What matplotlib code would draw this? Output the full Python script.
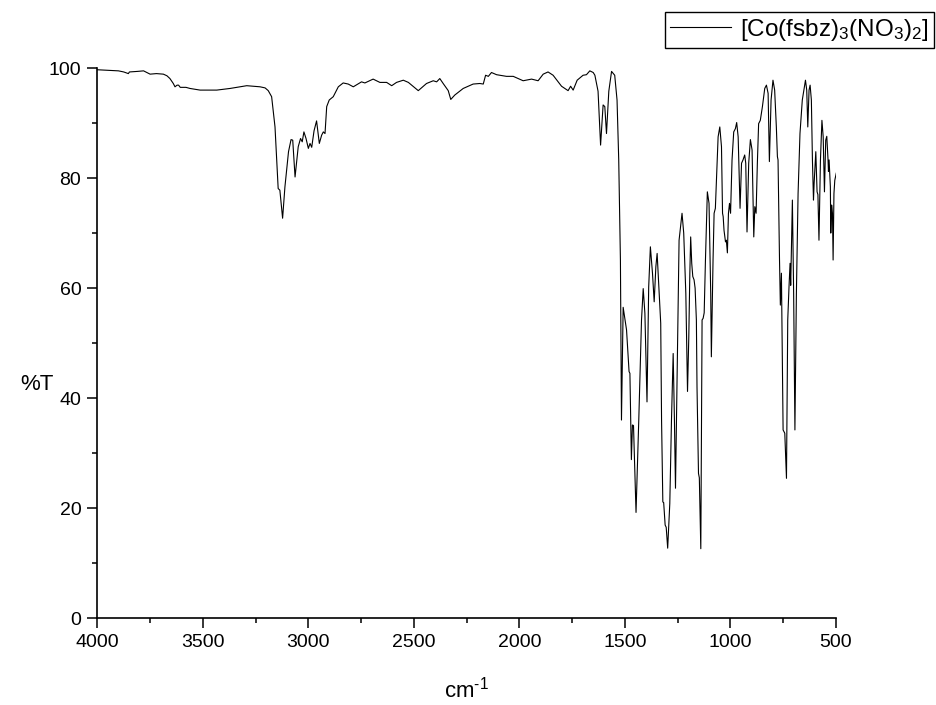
import matplotlib
matplotlib.use("Agg")
import matplotlib.pyplot as plt
from matplotlib.ticker import MultipleLocator

plt.rcParams['font.family'] = ['Liberation Sans', 'DejaVu Sans']
plt.rcParams['mathtext.fontset'] = 'custom'
plt.rcParams['mathtext.rm'] = 'Liberation Sans'
plt.rcParams['mathtext.it'] = 'Liberation Sans'

# IR spectrum: wavenumber (cm^-1) and transmittance (%T)
wavenumber = [
    4000, 3950, 3900, 3875, 3853, 3848, 3810, 3781, 3750, 3720, 3687, 3670,
    3656, 3640, 3632, 3622, 3615, 3607, 3580, 3561, 3513, 3434, 3371, 3292,
    3229, 3205, 3190, 3174, 3158, 3143, 3135, 3122, 3111, 3094, 3082, 3074,
    3063, 3048, 3037, 3029, 3021, 3011, 3000, 2992, 2984, 2973, 2961, 2948,
    2937, 2929, 2921, 2913, 2901, 2882, 2858, 2835, 2811, 2787, 2748, 2732,
    2693, 2661, 2629, 2605, 2582, 2550, 2526, 2479, 2440, 2408, 2392, 2377,
    2361, 2337, 2325, 2306, 2266, 2219, 2187, 2171, 2160, 2147, 2132, 2108,
    2061, 2029, 1982, 1942, 1911, 1887, 1864, 1840, 1800, 1769, 1757, 1745,
    1726, 1698, 1682, 1666, 1650, 1642, 1627, 1615, 1603, 1595, 1587, 1576,
    1563, 1548, 1537, 1529, 1521, 1516, 1508, 1492, 1480, 1476, 1469, 1464,
    1459, 1447, 1434, 1421, 1413, 1405, 1395, 1387, 1379, 1369, 1361, 1353,
    1347, 1339, 1330, 1326, 1320, 1316, 1309, 1304, 1297, 1287, 1279, 1271,
    1265, 1260, 1253, 1248, 1243, 1229, 1221, 1211, 1203, 1197, 1192, 1188,
    1183, 1178, 1172, 1167, 1161, 1158, 1151, 1147, 1140, 1134, 1129, 1124,
    1118, 1109, 1101, 1093, 1090, 1082, 1077, 1071, 1066, 1058, 1050, 1042,
    1037, 1034, 1030, 1023, 1019, 1014, 1009, 1004, 999, 992, 984, 976,
    970, 963, 954, 947, 940, 932, 927, 921, 913, 905, 897, 889,
    884, 878, 872, 866, 858, 848, 837, 829, 821, 815, 807, 798,
    790, 782, 777, 774, 767, 763, 758, 750, 746, 742, 734, 728,
    722, 717, 714, 706, 700, 694, 687, 679, 670, 659, 644, 638,
    633, 627, 622, 616, 611, 606, 603, 595, 589, 585, 580, 573,
    566, 560, 554, 548, 543, 537, 535, 532, 526, 524, 520, 516,
    513, 509, 505, 498,
]
transmittance = [
    99.7, 99.6, 99.5, 99.3, 99.0, 99.3, 99.4, 99.5, 98.9, 99.0, 98.9, 98.6,
    98.1, 97.2, 96.6, 96.9, 96.9, 96.5, 96.5, 96.3, 96.0, 96.0, 96.3, 96.8,
    96.6, 96.4, 95.9, 94.8, 89.3, 78.1, 77.8, 72.7, 78.4, 84.8, 87.0, 86.9,
    80.2, 85.7, 87.2, 86.6, 88.4, 87.2, 85.4, 86.3, 85.6, 88.6, 90.4, 86.3,
    87.8, 88.4, 88.1, 93.0, 94.2, 94.8, 96.6, 97.3, 97.1, 96.6, 97.5, 97.3,
    98.0, 97.4, 97.4, 96.8, 97.4, 97.8, 97.4, 95.9, 97.2, 97.7, 97.5, 98.1,
    97.2, 95.9, 94.3, 95.1, 96.3, 97.1, 97.2, 97.1, 98.7, 98.5, 99.2, 98.8,
    98.5, 98.5, 97.7, 98.0, 97.7, 98.9, 99.3, 98.7, 96.7, 95.9, 96.7, 96.0,
    97.8, 98.7, 98.8, 99.5, 99.2, 98.7, 95.8, 86.0, 93.3, 93.0, 88.1, 95.8,
    99.4, 98.7, 94.2, 83.3, 65.1, 36.0, 56.5, 52.4, 44.8, 44.5, 28.8, 35.1,
    35.0, 19.2, 36.0, 54.2, 59.9, 55.4, 39.3, 60.2, 67.5, 62.7, 57.5, 63.9,
    66.3, 60.2, 53.6, 36.0, 21.1, 21.0, 16.9, 16.5, 12.7, 20.8, 36.0, 48.1,
    36.0, 23.6, 42.1, 54.2, 68.7, 73.6, 70.0, 59.0, 41.2, 51.0, 62.7, 69.3,
    64.5, 62.1, 61.5, 60.0, 54.2, 42.0, 26.3, 25.5, 12.6, 54.2, 54.5, 55.5,
    65.1, 77.5, 75.4, 59.0, 47.5, 65.1, 73.6, 74.5, 79.6, 87.5, 89.3, 85.7,
    73.6, 73.0, 70.5, 68.4, 68.7, 66.4, 73.6, 75.4, 73.6, 83.3, 88.4, 89.0,
    90.1, 87.5, 74.5, 82.7, 83.3, 84.2, 82.7, 70.2, 82.7, 87.0, 85.1, 69.3,
    74.8, 73.6, 82.7, 89.9, 90.5, 93.0, 96.3, 96.9, 95.4, 83.0, 94.2, 97.8,
    96.0, 89.3, 83.9, 83.3, 65.1, 56.9, 62.7, 34.2, 33.9, 33.6, 25.4, 54.2,
    60.2, 64.5, 60.5, 76.0, 59.0, 34.2, 59.0, 77.2, 88.1, 94.2, 97.8, 96.0,
    89.3, 96.0, 96.9, 94.2, 83.3, 76.0, 79.0, 84.8, 77.5, 77.0, 68.7, 83.3,
    90.5, 87.5, 77.5, 86.9, 87.6, 83.3, 81.2, 83.3, 78.4, 70.0, 75.1, 73.6,
    65.1, 77.2, 79.6, 80.9,
]
series_label = r"[Co(fsbz)$_3$(NO$_3$)$_2$]"

fig = plt.figure(figsize=(9.36, 7.05), dpi=100)
ax = fig.add_axes([0.104, 0.1234, 0.789, 0.780])

ax.plot(wavenumber, transmittance, color="black", linewidth=0.8, label=series_label)

ax.set_xlim(4000, 500)
ax.set_ylim(0, 100)
ax.xaxis.set_major_locator(MultipleLocator(500))
ax.xaxis.set_minor_locator(MultipleLocator(250))
ax.yaxis.set_major_locator(MultipleLocator(20))
ax.yaxis.set_minor_locator(MultipleLocator(10))

for side in ("top", "right"):
    ax.spines[side].set_visible(False)
for side in ("left", "bottom"):
    ax.spines[side].set_linewidth(1.2)

ax.tick_params(which="major", direction="out", length=7.5, width=1.1, labelsize=14, pad=4)
ax.tick_params(which="minor", direction="out", length=3.8, width=1.1)

ax.set_xlabel(r"cm$^{\text{-1}}$", fontsize=16)
ax.xaxis.set_label_coords(0.5, -0.13)
ax.xaxis.label.set_va("center")
ax.set_ylabel("%T", fontsize=16, rotation=0)
ax.yaxis.set_label_coords(-0.082, 0.424)
ax.yaxis.label.set_va("center")
ax.yaxis.label.set_ha("center")

leg = fig.legend(loc="upper right", bbox_to_anchor=(934 / 936, 1 - 12 / 705),
                 fontsize=17.5, frameon=True, fancybox=False, framealpha=1,
                 edgecolor="black", borderpad=0.2, handlelength=2.5,
                 handletextpad=0.4, borderaxespad=0)
leg.get_frame().set_linewidth(1.0)

fig.savefig("out.png", dpi=100)
